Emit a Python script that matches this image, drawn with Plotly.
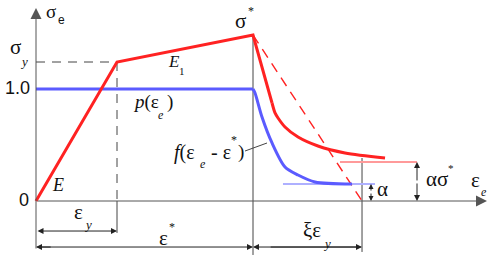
import plotly.graph_objects as go

# ---- data (normalised strain / stress) ----
eps_y = 1.0          # yield strain
eps_star = 2.679     # strain at peak
eps_end = 4.025      # eps* + xi*eps_y
sig_y = 1.241        # yield stress
sig_star = 1.482     # peak stress
p_level = 1.0        # p(eps_e) plateau
alpha_res = 0.152    # residual of f
alpha_sig_res = 0.348  # residual of stress curve

red_lin_x = [0.0, 1.0, 2.679, 2.914]
red_lin_y = [0.0, 1.241, 1.482, 0.875]
red_curve_x = [2.914, 2.951, 2.988, 3.074, 3.235, 3.481, 3.815, 4.309]
red_curve_y = [0.875, 0.786, 0.741, 0.661, 0.571, 0.491, 0.429, 0.384]

blue_lin_x = [0.0, 2.679]
blue_lin_y = [1.0, 1.0]
blue_curve_x = [2.679, 2.704, 2.790, 2.914, 3.074, 3.235, 3.444, 3.901]
blue_curve_y = [1.0, 0.964, 0.750, 0.518, 0.304, 0.232, 0.170, 0.152]

RED = "#ff2222"
BLUE = "#5b5bff"
GRAY = "#555555"

# pixel helper for label placement only
def P(px, py):
    return ((px - 36) / 81.0, (201 - py) / 112.0)

fig = go.Figure()

def line(x, y, color, width, dash="solid", shape="linear"):
    fig.add_trace(go.Scatter(x=x, y=y, mode="lines", hoverinfo="skip",
                             line=dict(color=color, width=width, dash=dash, shape=shape,
                                       smoothing=0.8 if shape == "spline" else None)))

# guide lines (gray)
line([0, eps_y], [sig_y, sig_y], "#444444", 1, dash="9px,7px")
line([eps_y, eps_y], [sig_y, 0], "#444444", 1, dash="9px,7px")
line([eps_y, eps_y], [0, -0.285], "#444444", 1)
line([eps_star, eps_star], [sig_star, -0.482], "#444444", 1)
line([eps_end, eps_end], [0.384, -0.455], "#444444", 1)
line(*zip(*[P(245, 151), P(267, 143)]), "#444444", 1)

# residual reference lines
line([3.049, 4.185], [alpha_res, alpha_res], "#aeb0ff", 2)
line([3.753, 4.704], [alpha_sig_res, alpha_sig_res], "#ff9a9a", 2)

# dashed unloading line
line([eps_star, eps_end], [sig_star, 0], RED, 1.4, dash="10px,7px")

# main curves
line(blue_lin_x, blue_lin_y, BLUE, 3)
line(blue_curve_x, blue_curve_y, BLUE, 3, shape="spline")
line(red_lin_x, red_lin_y, RED, 3)
line(red_curve_x, red_curve_y, RED, 3, shape="spline")

ann = []

def arrow(x0, y0, x1, y1, both=False, size=1.2, width=1, color="#222222"):
    d = dict(x=x1, y=y1, ax=x0, ay=y0, xref="x", yref="y", axref="x", ayref="y",
             text="", showarrow=True, arrowhead=2, arrowsize=size, arrowwidth=width,
             arrowcolor=color, standoff=0, startstandoff=0)
    if both:
        d.update(arrowside="end+start", startarrowhead=2, startarrowsize=size)
    ann.append(d)

# axes
ox, oy = P(36, 250)
arrow(0, oy, 0, P(36, 8)[1], size=2.2, width=1, color=GRAY)
arrow(0, 0, P(487, 201)[0], 0, size=2.2, width=1, color=GRAY)

# dimension arrows
arrow(0, -0.268, eps_y, -0.268, both=True)
arrow(0, -0.411, eps_star, -0.411)
arrow(eps_end, -0.411, eps_star, -0.411)
arrow(0.2, -0.411, 0, -0.411)
arrow(eps_star + 0.2, -0.411, eps_end, -0.411)
arrow(P(371, 190)[0], 0.08, P(371, 190)[0], alpha_res, size=1)
arrow(P(371, 190)[0], 0.08, P(371, 190)[0], 0, size=1)
arrow(P(417, 180)[0], 0.17, P(417, 180)[0], alpha_sig_res)
arrow(P(417, 180)[0], 0.17, P(417, 180)[0], 0)

def txt(px, py, s, size=19, family="Liberation Serif", color="#111111", xa="center"):
    x, y = P(px, py)
    ann.append(dict(x=x, y=y, xref="x", yref="y", text=s, showarrow=False,
                    xanchor=xa, yanchor="middle", borderpad=0,
                    font=dict(size=size, family=family, color=color)))

GK = "Liberation Serif"
SANS = "Liberation Sans"
# y axis title
txt(51, 11.5, "σ", 19, GK)
txt(61, 20, "e", 12, SANS)
# sigma_y
txt(15, 47, "σ", 21, GK)
txt(24, 61, "<i>y</i>", 13, GK)
txt(17, 88, "1.0", 18, SANS)
txt(24, 200, "0", 18, SANS)
txt(58, 185, "<i>E</i>", 18, GK)
txt(174, 61, "<i>E</i>", 17, GK)
txt(182, 71, "1", 11, GK)
# p(eps_e)
txt(146, 102, "<i>p</i>(ε", 19, GK)
txt(161, 115, "<i>e</i>", 12, GK)
txt(170, 102, ")", 19, GK)
# sigma*
txt(240, 21, "σ", 21, GK)
txt(251, 11, "*", 12, GK)
# f(eps_e - eps*)
txt(184, 152, "<i>f</i>(ε", 20, GK)
txt(203, 164, "<i>e</i>", 12, GK)
txt(221, 152, "- ε", 20, GK)
txt(234, 140, "*", 12, GK)
txt(241, 152, ")", 19, GK)
# bottom labels
txt(78, 212, "ε", 21, GK)
txt(88, 224, "<i>y</i>", 13, GK)
txt(163, 238, "ε", 21, GK)
txt(172, 227, "*", 12, GK)
txt(312, 230, "ξε", 21, GK)
txt(327, 243, "<i>y</i>", 13, GK)
# right labels
txt(382, 189, "α", 21, GK)
txt(437, 179, "ασ", 21, GK)
txt(451, 168, "*", 11, GK)
txt(475, 180, "ε", 21, GK)
txt(484, 192, "<i>e</i>", 12, GK)

fig.update_layout(
    width=500, height=269, margin=dict(l=0, r=0, t=0, b=0),
    paper_bgcolor="white", plot_bgcolor="white", showlegend=False,
    xaxis=dict(range=[-36 / 81.0, 464 / 81.0], visible=False, fixedrange=True),
    yaxis=dict(range=[-68 / 112.0, 201 / 112.0], visible=False, fixedrange=True),
    annotations=ann,
)
fig.write_html("out.html")
